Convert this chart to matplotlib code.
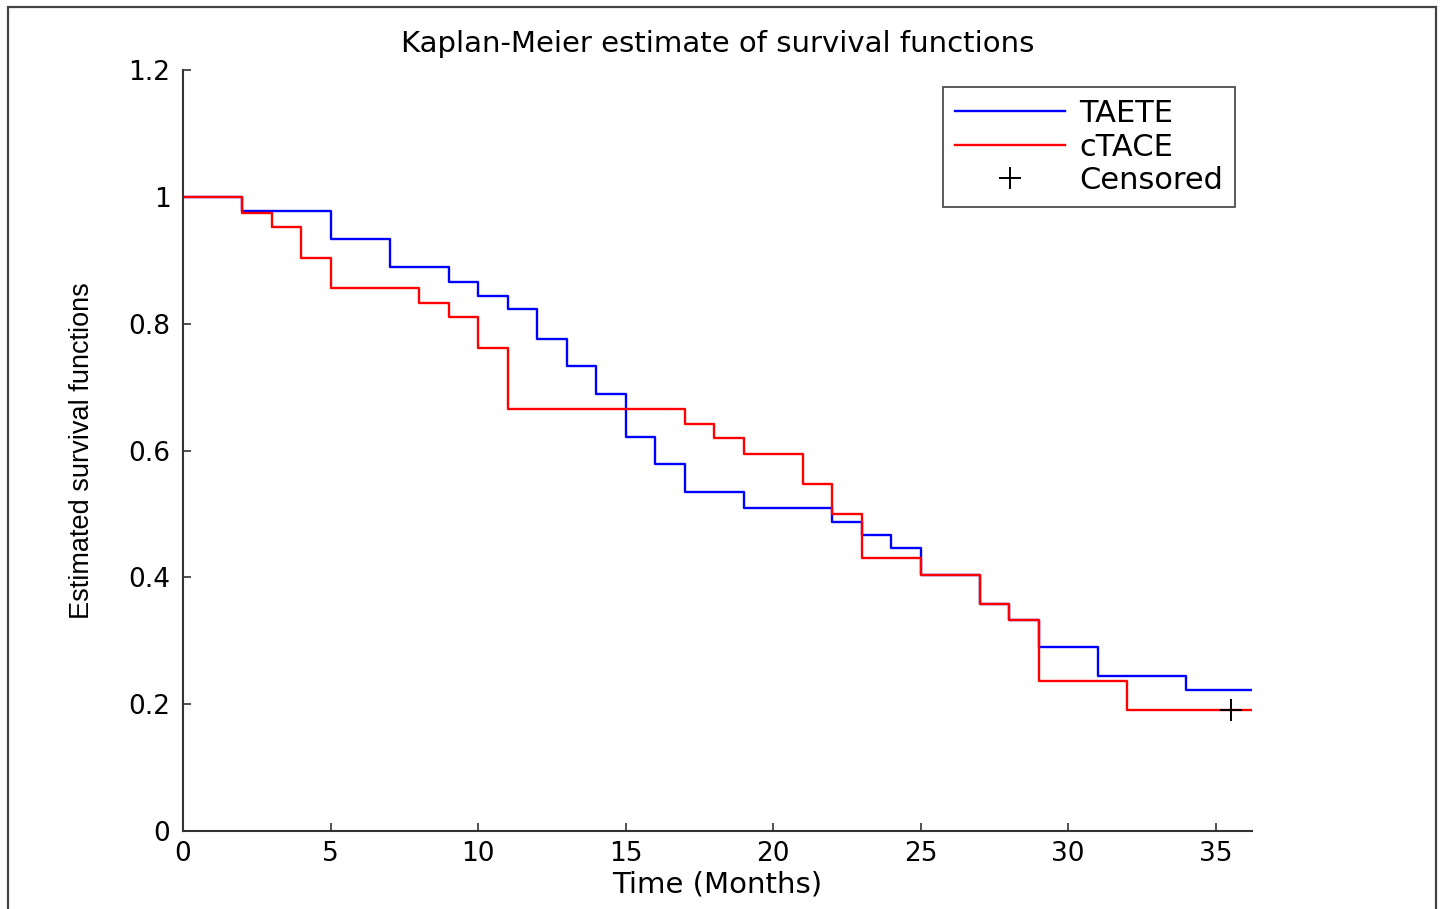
import numpy as np
import matplotlib
matplotlib.use("Agg")
import matplotlib.pyplot as plt
from matplotlib.patches import Rectangle

# TAETE (blue) step curve
taete_t = [0, 2, 5, 7, 9, 10, 11, 12, 13, 14, 15, 16, 17, 19, 22, 23, 24, 25, 27, 28, 29, 31, 34, 36.23]
taete_s = [1.0, 0.977, 0.933, 0.889, 0.865, 0.844, 0.823, 0.776, 0.733, 0.689, 0.622, 0.579, 0.535,
           0.510, 0.487, 0.466, 0.446, 0.404, 0.358, 0.333, 0.290, 0.244, 0.222, 0.222]

# cTACE (red) step curve
ctace_t = [0, 2, 3, 4, 5, 8, 9, 10, 11, 17, 18, 19, 21, 22, 23, 25, 27, 28, 29, 32, 36.23]
ctace_s = [1.0, 0.974, 0.952, 0.903, 0.857, 0.832, 0.811, 0.761, 0.666, 0.642, 0.619, 0.594,
           0.547, 0.500, 0.431, 0.404, 0.358, 0.333, 0.237, 0.191, 0.191]

# censored observations
cens_t = [35.5]
cens_s = [0.191]

xticks = [0, 5, 10, 15, 20, 25, 30, 35]
yticks = [0, 0.2, 0.4, 0.6, 0.8, 1.0, 1.2]
ytick_labels = ["0", "0.2", "0.4", "0.6", "0.8", "1", "1.2"]

plt.rcParams['font.family'] = ['DejaVu Sans']

fig = plt.figure(figsize=(14.43, 9.09), dpi=100)
ax = fig.add_axes([0.1268, 0.0858, 0.7409, 0.8372])

ax.step(taete_t, taete_s, where="post", color=(0, 0, 1), lw=1.7, label="TAETE")
ax.step(ctace_t, ctace_s, where="post", color=(1, 0, 0), lw=1.7, label="cTACE")
ax.plot(cens_t, cens_s, ls="none", marker="+", color="black", ms=16, mew=1.4, label="Censored")

ax.set_xlim(0, 36.23)
ax.set_ylim(0, 1.2)
ax.set_xticks(xticks)
ax.set_yticks(yticks)
ax.set_yticklabels(ytick_labels)

for s in ["top", "right"]:
    ax.spines[s].set_visible(False)
for s in ["left", "bottom"]:
    ax.spines[s].set_color("#333333")
    ax.spines[s].set_linewidth(1.5)

ax.tick_params(direction="in", length=6, width=1.2, color="#333333", labelsize=19)
ax.tick_params(axis="y", pad=9)
ax.tick_params(axis="x", pad=7)

ax.set_title("Kaplan-Meier estimate of survival functions", fontsize=21, pad=13)
ax.set_xlabel("Time (Months)", fontsize=21, labelpad=3)
ax.set_ylabel("Estimated survival functions", fontsize=19.5,
              family="Liberation Sans", labelpad=24)

leg = ax.legend(loc="upper right", bbox_to_anchor=(0.984, 0.978), fontsize=22,
                frameon=True, fancybox=False, handlelength=3.6, handletextpad=0.45,
                labelspacing=0.15, borderpad=0.4, borderaxespad=0)
leg.get_frame().set_edgecolor("#222222")
leg.get_frame().set_linewidth(1.3)

# outer frame around the figure
fig.patches.append(Rectangle((8 / 1443, -0.01), 1428 / 1443, 1 - 7 / 909 + 0.01,
                             transform=fig.transFigure, fill=False,
                             edgecolor="#444444", linewidth=1.6))

fig.savefig("out.png", dpi=100)
